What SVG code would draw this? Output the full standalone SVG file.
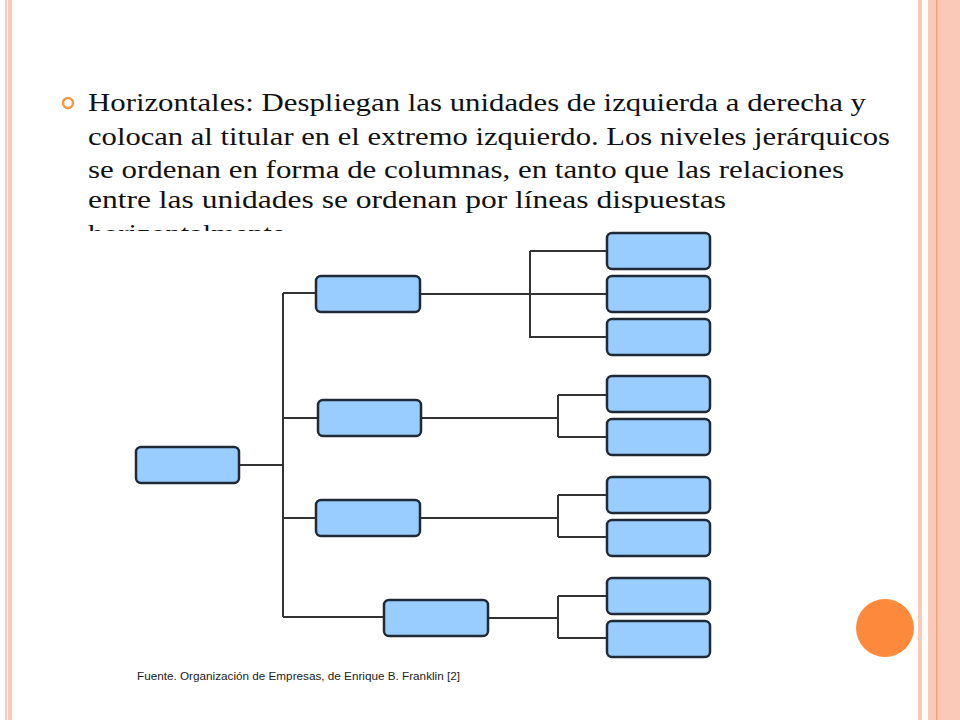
<svg xmlns="http://www.w3.org/2000/svg" width="960" height="720" viewBox="0 0 960 720">
<style>
.b{fill:#99ccff;stroke:#1f2a36;stroke-width:2.5}
.c{fill:none;stroke:#333;stroke-width:2}
.t{font-family:"Liberation Serif",serif;font-size:25px;fill:#111}
</style>
<defs><clipPath id="cp"><rect x="0" y="0" width="960" height="231"/></clipPath></defs>
<rect width="960" height="720" fill="#fff"/>
<rect x="5" y="0" width="2" height="720" fill="#fbc9b8"/>
<rect x="8" y="0" width="4" height="720" fill="#fbc9b8"/>
<rect x="918" y="0" width="4" height="720" fill="#fbc9b8"/>
<rect x="928" y="0" width="32" height="720" fill="#fbc9b8"/>
<rect x="936" y="0" width="1.5" height="720" fill="#f2a27c"/>
<circle cx="68" cy="103" r="5" fill="none" stroke="#f79646" stroke-width="2.5"/>
<g clip-path="url(#cp)" class="t">
<text x="88" y="111" textLength="778" lengthAdjust="spacingAndGlyphs">Horizontales: Despliegan las unidades de izquierda a derecha y</text>
<text x="88" y="145" textLength="802" lengthAdjust="spacingAndGlyphs">colocan al titular en el extremo izquierdo. Los niveles jerárquicos</text>
<text x="88" y="178" textLength="756" lengthAdjust="spacingAndGlyphs">se ordenan en forma de columnas, en tanto que las relaciones</text>
<text x="88" y="208" textLength="638" lengthAdjust="spacingAndGlyphs">entre las unidades se ordenan por líneas dispuestas</text>
<text x="88" y="242" textLength="205" lengthAdjust="spacingAndGlyphs">horizontalmente.</text>
</g>
<g id="connectors" class="c">
<path d="M239 465H283M283 293V617M283 293H316M283 418H318M283 518H316M283 617H384"/>
<path d="M420 294H607M530 251V337H607M530 251H607"/>
<path d="M421 418H558M558 395V437M558 395H607M558 437H607"/>
<path d="M420 518H558M558 495V537M558 495H607M558 537H607"/>
<path d="M488 618H558M558 596V638M558 596H607M558 638H607"/>
</g>
<g id="root"><rect class="b" x="136" y="447" width="103" height="36" rx="5"/></g>
<g id="n1"><rect class="b" x="316" y="276" width="104" height="36" rx="5"/></g>
<g id="n2"><rect class="b" x="318" y="400" width="103" height="36" rx="5"/></g>
<g id="n3"><rect class="b" x="316" y="500" width="104" height="36" rx="5"/></g>
<g id="n4"><rect class="b" x="384" y="600" width="104" height="36" rx="5"/></g>
<g id="l1"><rect class="b" x="607" y="233" width="103" height="36" rx="5"/></g>
<g id="l2"><rect class="b" x="607" y="276" width="103" height="36" rx="5"/></g>
<g id="l3"><rect class="b" x="607" y="319" width="103" height="36" rx="5"/></g>
<g id="l4"><rect class="b" x="607" y="376" width="103" height="36" rx="5"/></g>
<g id="l5"><rect class="b" x="607" y="419" width="103" height="36" rx="5"/></g>
<g id="l6"><rect class="b" x="607" y="477" width="103" height="36" rx="5"/></g>
<g id="l7"><rect class="b" x="607" y="520" width="103" height="36" rx="5"/></g>
<g id="l8"><rect class="b" x="607" y="578" width="103" height="36" rx="5"/></g>
<g id="l9"><rect class="b" x="607" y="621" width="103" height="36" rx="5"/></g>
<text x="137" y="680" font-family="Liberation Sans,sans-serif" font-size="11" fill="#222" textLength="323" lengthAdjust="spacingAndGlyphs">Fuente. Organización de Empresas, de Enrique B. Franklin [2]</text>
<circle cx="885" cy="628" r="29" fill="#fd8a3c"/>
</svg>
